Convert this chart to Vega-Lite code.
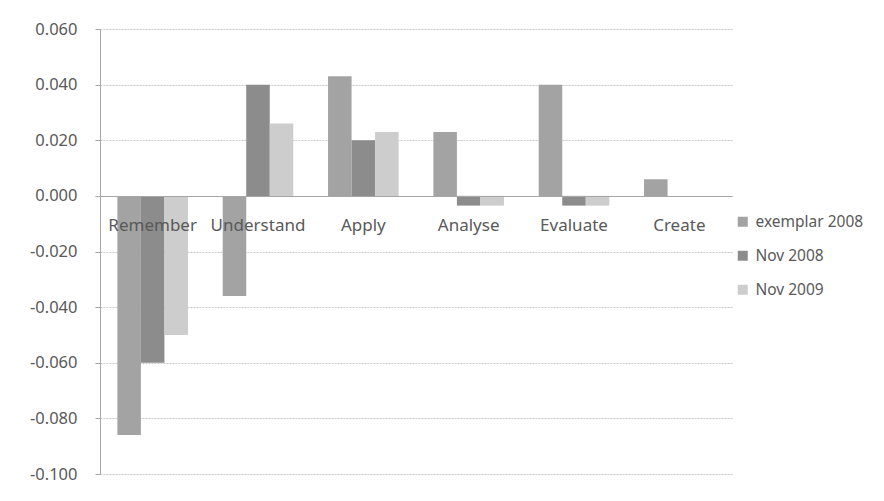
{
  "$schema": "https://vega.github.io/schema/vega-lite/v6.json",
  "autosize": "none",
  "width": 632,
  "height": 445,
  "padding": {"left": 100, "top": 29, "right": 152, "bottom": 27},
  "background": "white",
  "config": {
    "font": "Noto Sans",
    "view": {"stroke": null}
  },
  "data": {
    "values": [
      {"level": "Remember", "series": "exemplar 2008", "value": -0.086},
      {"level": "Remember", "series": "Nov 2008", "value": -0.060},
      {"level": "Remember", "series": "Nov 2009", "value": -0.050},
      {"level": "Understand", "series": "exemplar 2008", "value": -0.036},
      {"level": "Understand", "series": "Nov 2008", "value": 0.040},
      {"level": "Understand", "series": "Nov 2009", "value": 0.026},
      {"level": "Apply", "series": "exemplar 2008", "value": 0.043},
      {"level": "Apply", "series": "Nov 2008", "value": 0.020},
      {"level": "Apply", "series": "Nov 2009", "value": 0.023},
      {"level": "Analyse", "series": "exemplar 2008", "value": 0.023},
      {"level": "Analyse", "series": "Nov 2008", "value": -0.0035},
      {"level": "Analyse", "series": "Nov 2009", "value": -0.0035},
      {"level": "Evaluate", "series": "exemplar 2008", "value": 0.040},
      {"level": "Evaluate", "series": "Nov 2008", "value": -0.0035},
      {"level": "Evaluate", "series": "Nov 2009", "value": -0.0035},
      {"level": "Create", "series": "exemplar 2008", "value": 0.006},
      {"level": "Create", "series": "Nov 2008", "value": 0},
      {"level": "Create", "series": "Nov 2009", "value": 0}
    ]
  },
  "mark": {"type": "bar"},
  "encoding": {
    "x": {
      "field": "level",
      "type": "nominal",
      "sort": ["Remember", "Understand", "Apply", "Analyse", "Evaluate", "Create"],
      "scale": {"paddingInner": 0.33, "paddingOuter": 0.165},
      "axis": {
        "title": null,
        "orient": "bottom",
        "offset": -278,
        "labelAngle": 0,
        "ticks": false,
        "labelPadding": 21,
        "labelFontSize": 17,
        "labelColor": "#595959",
        "domainColor": "#a6a6a6",
        "zindex": 1
      }
    },
    "xOffset": {
      "field": "series",
      "type": "nominal",
      "sort": ["exemplar 2008", "Nov 2008", "Nov 2009"],
      "scale": {"paddingInner": 0, "paddingOuter": 0}
    },
    "y": {
      "field": "value",
      "type": "quantitative",
      "scale": {"domain": [-0.1, 0.06], "nice": false, "zero": false},
      "axis": {
        "title": null,
        "values": [-0.1, -0.08, -0.06, -0.04, -0.02, 0, 0.02, 0.04, 0.06],
        "labelExpr": "replace(format(datum.value, '.3f'), '\u2212', '-')",
        "labelFontSize": 16.5,
        "labelColor": "#595959",
        "labelPadding": 18,
        "tickSize": 5,
        "tickColor": "#a6a6a6",
        "domainColor": "#a6a6a6",
        "gridColor": "#c8c8c8",
        "gridDash": [2, 1]
      }
    },
    "color": {
      "field": "series",
      "type": "nominal",
      "sort": ["exemplar 2008", "Nov 2008", "Nov 2009"],
      "scale": {
        "domain": ["exemplar 2008", "Nov 2008", "Nov 2009"],
        "range": ["#a3a3a3", "#8c8c8c", "#cdcdcd"]
      },
      "legend": {
        "title": null,
        "orient": "none",
        "legendX": 635,
        "legendY": 185,
        "symbolType": "square",
        "symbolSize": 100,
        "labelFontSize": 15.5,
        "labelColor": "#595959",
        "rowPadding": 17,
        "labelOffset": 5
      }
    }
  }
}
